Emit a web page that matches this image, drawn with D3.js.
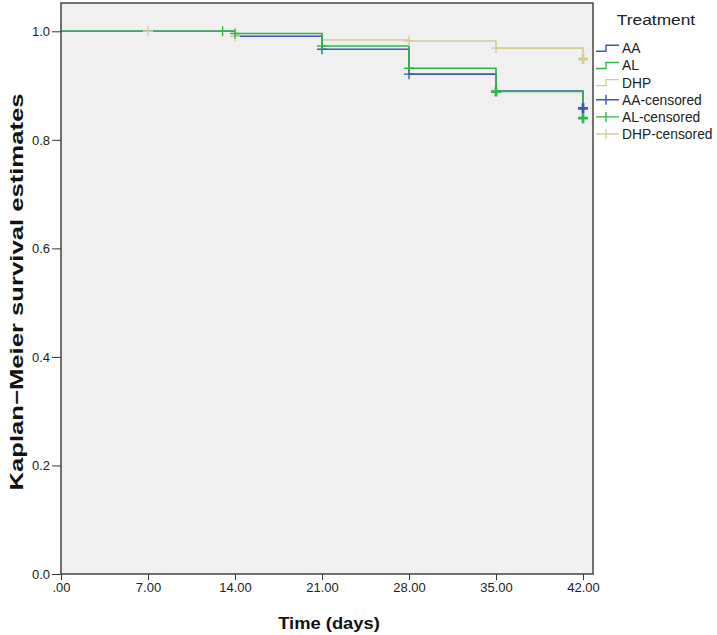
<!DOCTYPE html>
<html><head><meta charset="utf-8">
<script src="https://cdn.jsdelivr.net/npm/d3@7"></script>
<style>body{margin:0;background:#fff;} text{font-family:"Liberation Sans",Arial,sans-serif;}</style>
</head><body>
<svg id="c" width="717" height="635"></svg>
<script>
// ---- data ----
const groups = ["AA", "AL", "DHP"];
const colors = ["#3e58ac", "#2eb848", "#d3ce97"];
const stepTimes = [0, 14, 21, 28, 35, 42];
const survAA  = [1.000, 0.991, 0.967, 0.921, 0.890, 0.858];
const survAL  = [1.000, 0.996, 0.973, 0.932, 0.889, 0.840];
const survDHP = [1.000, 0.991, 0.984, 0.982, 0.969, 0.949];
const censorAA_t  = [21, 28, 42];
const censorAA_s  = [0.967, 0.921, 0.858];
const censorAL_t  = [13, 14, 21, 28, 35, 42];
const censorAL_s  = [1.000, 0.996, 0.973, 0.932, 0.889, 0.840];
const censorDHP_t = [7, 14, 28, 35, 42];
const censorDHP_s = [1.000, 0.991, 0.982, 0.969, 0.949];
const xTicks = [0, 7, 14, 21, 28, 35, 42];
const xTickLabels = [".00", "7.00", "14.00", "21.00", "28.00", "35.00", "42.00"];
const yTicks = [0, 0.2, 0.4, 0.6, 0.8, 1.0];
const yTickLabels = ["0.0", "0.2", "0.4", "0.6", "0.8", "1.0"];
const legendLabels = ["AA", "AL", "DHP", "AA-censored", "AL-censored", "DHP-censored"];

const curves = [survAA, survAL, survDHP];
const censT = [censorAA_t, censorAL_t, censorDHP_t];
const censS = [censorAA_s, censorAL_s, censorDHP_s];

// ---- layout ----
const svg = d3.select("#c");
const frame = {l: 61, t: 3, r: 593, b: 574};
const x = d3.scaleLinear().domain([0, 42]).range([61, 583]);
const y = d3.scaleLinear().domain([0, 1]).range([574, 31.3]);

svg.append("rect").attr("x", frame.l).attr("y", frame.t)
  .attr("width", frame.r - frame.l).attr("height", frame.b - frame.t)
  .attr("fill", "#f0f0f0").attr("stroke", "none");

// axes
const xAxis = d3.axisBottom(x).tickValues(xTicks).tickFormat((d, i) => xTickLabels[i]).tickSize(6).tickPadding(3);
const gx = svg.append("g").attr("transform", `translate(0,${frame.b})`).call(xAxis);
gx.select(".domain").remove();
gx.selectAll("line").attr("stroke", "#333");
gx.selectAll("text").attr("font-size", 13).attr("fill", "#222");

const yAxis = d3.axisLeft(y).tickValues(yTicks).tickFormat((d, i) => yTickLabels[i]).tickSize(9).tickPadding(2);
const gy = svg.append("g").attr("transform", `translate(${frame.l},0)`).call(yAxis);
gy.select(".domain").remove();
gy.selectAll("line").attr("stroke", "#333");
gy.selectAll("text").attr("font-size", 13).attr("fill", "#222");

// curves
const line = d3.line().x(d => x(d[0])).y(d => y(d[1])).curve(d3.curveStepAfter);
const order = [2, 0, 1];
order.forEach(g => {
  const pts = stepTimes.map((t, i) => [t, curves[g][i]]);
  svg.append("path").attr("d", line(pts)).attr("fill", "none")
    .attr("stroke", colors[g]).attr("stroke-width", 1.6);
});
order.forEach(g => {
  censT[g].forEach((t, i) => {
    const cx = x(t), cy = y(censS[g][i]);
    const heavy = t === 42 || (g === 1 && t === 35);
    const w = heavy ? 2.8 : 1.4;
    svg.append("path").attr("d", `M${cx - 5},${cy}H${cx + 5}M${cx},${cy - 5}V${cy + 5}`)
      .attr("stroke", colors[g]).attr("stroke-width", w).attr("fill", "none");
  });
});

// frame border
svg.append("rect").attr("x", frame.l).attr("y", frame.t)
  .attr("width", frame.r - frame.l).attr("height", frame.b - frame.t)
  .attr("fill", "none").attr("stroke", "#444").attr("stroke-width", 1.5);

// axis titles
svg.append("text").attr("x", 0).attr("y", 0).attr("text-anchor", "middle")
  .attr("font-size", 17).attr("font-weight", "bold").attr("fill", "#111")
  .attr("transform", "translate(329,629) scale(1.08,1)")
  .text("Time (days)");
svg.append("text").attr("transform", "translate(23,292) rotate(-90) scale(1.35,1)")
  .attr("text-anchor", "middle").attr("font-size", 19).attr("font-weight", "bold").attr("fill", "#111")
  .text("Kaplan\u2212Meier survival estimates");

// legend
const lg = svg.append("g");
lg.append("text").attr("text-anchor", "middle")
  .attr("transform", "translate(656,25) scale(1.12,1)")
  .attr("font-size", 15.5).attr("fill", "#222").text("Treatment");
legendLabels.forEach((lab, i) => {
  const ly = 48.3 + i * 17.15;
  const g = i % 3;
  if (i < 3) {
    lg.append("path").attr("d", `M596,${ly + 3}H606V${ly - 3}H619`)
      .attr("fill", "none").attr("stroke", colors[g]).attr("stroke-width", 1.4);
  } else {
    lg.append("path").attr("d", `M596,${ly}H619M606,${ly - 5}V${ly + 5}`)
      .attr("fill", "none").attr("stroke", colors[g]).attr("stroke-width", 1.4);
  }
  lg.append("text").attr("x", 622).attr("y", ly + 5).attr("font-size", 13.8)
    .attr("fill", "#222").text(lab);
});
</script>
</body></html>
